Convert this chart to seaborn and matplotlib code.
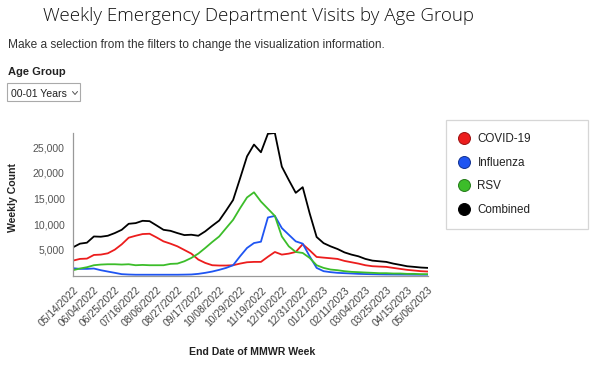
import numpy as np
import pandas as pd
import matplotlib
matplotlib.use("Agg")
import matplotlib.pyplot as plt
import seaborn as sns
from matplotlib.lines import Line2D
from matplotlib.patches import Rectangle

# ---------------- data (thousands of visits) ----------------
week_start = "2022-05-14"
n_weeks = 52
covid = [2.90, 3.23, 3.29, 4.00, 4.07, 4.32, 5.03, 6.07, 7.36, 7.74, 8.07, 8.13, 7.42,
         6.65, 6.20, 5.68, 4.97, 4.26, 3.10, 2.45, 2.00, 1.94, 1.94, 2.00, 2.32, 2.58,
         2.65, 2.65, 3.65, 4.58, 4.07, 4.26, 4.58, 6.10, 4.90, 3.61, 3.48, 3.36, 3.23,
         2.84, 2.58, 2.32, 2.00, 1.81, 1.74, 1.68, 1.48, 1.29, 1.10, 0.97, 0.84, 0.77]
influenza = [1.42, 1.29, 1.29, 1.36, 1.03, 0.77, 0.52, 0.26, 0.19, 0.15, 0.15, 0.15, 0.15,
             0.15, 0.15, 0.15, 0.17, 0.20, 0.32, 0.52, 0.77, 1.10, 1.48, 2.00, 3.74, 5.36,
             6.32, 6.58, 11.3, 11.6, 9.23, 7.94, 6.65, 6.20, 3.74, 1.48, 0.84, 0.65, 0.52,
             0.45, 0.39, 0.32, 0.28, 0.25, 0.22, 0.20, 0.19, 0.18, 0.17, 0.16, 0.15, 0.15]
rsv = [1.03, 1.36, 1.61, 2.00, 2.13, 2.19, 2.19, 2.13, 2.19, 2.00, 2.06, 2.00, 2.00,
       2.00, 2.26, 2.32, 2.77, 3.42, 4.26, 5.36, 6.52, 7.60, 9.23, 10.84, 13.1, 15.2,
       16.2, 14.4, 13.0, 11.6, 7.6, 5.68, 4.58, 4.39, 3.42, 2.00, 1.48, 1.16, 1.03,
       0.84, 0.71, 0.65, 0.58, 0.52, 0.45, 0.45, 0.39, 0.39, 0.32, 0.32, 0.26, 0.26]
combined = [5.49, 6.20, 6.39, 7.60, 7.55, 7.74, 8.26, 8.90, 10.07, 10.20, 10.65, 10.58, 9.75,
            8.90, 8.70, 8.26, 7.87, 7.94, 7.74, 8.60, 9.68, 10.70, 12.65, 14.70, 18.90, 23.20,
            25.50, 24.00, 27.60, 27.75, 21.20, 18.60, 16.10, 17.20, 12.10, 7.50, 6.30, 5.68, 5.16,
            4.50, 4.07, 3.74, 3.23, 2.90, 2.77, 2.65, 2.32, 2.07, 1.80, 1.68, 1.55, 1.48]
series_names = ["COVID-19", "Influenza", "RSV", "Combined"]
series_colors = ["#ec1d1d", "#1f55f2", "#3cbd2a", "#000000"]
edge_colors = ["#9b1010", "#10308f", "#237a18", "#000000"]
y_ticks = [5000, 10000, 15000, 20000, 25000]

dates = pd.date_range(week_start, periods=n_weeks, freq="7D")
df = pd.DataFrame({
    "date": np.tile(dates, len(series_names)),
    "value": np.concatenate([covid, influenza, rsv, combined]) * 1000.0,
    "series": np.repeat(series_names, n_weeks),
})

# ---------------- figure ----------------
sns.set_style("white")
plt.rcParams["font.family"] = ["Liberation Sans", "DejaVu Sans"]

W, H = 600, 365
fig = plt.figure(figsize=(W / 100, H / 100), dpi=100)

def fx(px):
    return px / W

def fy(py):
    return 1 - py / H

ax = fig.add_axes([fx(73), fy(275.5), fx(428) - fx(73), fy(133) - fy(275.5)])

sns.lineplot(data=df, x="date", y="value", hue="series", hue_order=series_names,
             palette=dict(zip(series_names, series_colors)), legend=False,
             linewidth=1.3, ax=ax)

ax.set_xlim(dates[0], dates[-1])
ax.set_ylim(0, max(combined) * 1000.0)
tick_dates = dates[::3]
ax.set_xticks(tick_dates)
ax.set_xticklabels([d.strftime("%m/%d/%Y") for d in tick_dates], rotation=45,
                   ha="right", rotation_mode="anchor", fontsize=7.4, color="#444444")
ax.set_yticks(y_ticks)
ax.set_yticklabels([f"{v:,}" for v in y_ticks], fontsize=7.6, color="#555555")
ax.tick_params(axis="both", length=4, width=0.8, color="#999999", pad=2, direction="out")
ax.tick_params(axis="x", pad=3)
ax.set_xlabel("")
ax.set_ylabel("")
for s in ["top", "right"]:
    ax.spines[s].set_visible(False)
for s in ["left", "bottom"]:
    ax.spines[s].set_color("#999999")
    ax.spines[s].set_linewidth(0.9)
ax.grid(False)

# axis titles
fig.text(fx(252), fy(355), "End Date of MMWR Week", ha="center", va="baseline",
         fontsize=7.6, fontweight="bold", color="#222222")
fig.text(fx(13.5), fy(197), "Weekly Count", ha="center", va="center", rotation=90,
         fontsize=7.6, fontweight="bold", color="#222222")

# header texts
title = fig.text(fx(43), fy(20.7), "Weekly Emergency Department Visits by Age Group",
                 ha="left", va="baseline", fontsize=14, fontweight="light",
                 family=["Open Sans", "DejaVu Sans"], color="#111111")
sub = fig.text(fx(8), fy(47.7),
               "Make a selection from the filters to change the visualization information.",
               ha="left", va="baseline", fontsize=8, color="#333333")
fig.text(fx(8), fy(75.3), "Age Group", ha="left", va="baseline", fontsize=8,
         fontweight="bold", color="#222222")

# dropdown
fig.add_artist(Rectangle((fx(7), fy(101)), fx(80) - fx(7), fy(83) - fy(101),
                         transform=fig.transFigure, facecolor="white",
                         edgecolor="#aaaaaa", linewidth=0.8))
fig.text(fx(11), fy(96.5), "00-01 Years", ha="left", va="baseline", fontsize=7.6,
         color="#222222")
fig.add_artist(Line2D([fx(72.5), fx(75), fx(77.5)], [fy(91.5), fy(94.5), fy(91.5)],
                      transform=fig.transFigure, color="#555555", linewidth=0.7))

# fit header widths to reference
fig.canvas.draw()
r = fig.canvas.get_renderer()
for t, target in [(title, 433.0), (sub, 381.0)]:
    w = t.get_window_extent(r).width
    t.set_fontsize(t.get_fontsize() * target / w)

# legend
handles = [Line2D([], [], linestyle="", marker="o", markersize=8.6,
                  markerfacecolor=c, markeredgecolor=e, markeredgewidth=0.7)
           for c, e in zip(series_colors, edge_colors)]
leg = fig.legend(handles, series_names, loc="upper left",
                 bbox_to_anchor=(fx(446), fy(228), fx(588) - fx(446), fy(120) - fy(228)),
                 mode="expand", borderaxespad=0, fontsize=8.4, frameon=True,
                 fancybox=False, borderpad=1.15, handlelength=0.8, handletextpad=0.75,
                 labelspacing=0.98)
leg.get_frame().set_edgecolor("#cccccc")
leg.get_frame().set_linewidth(0.9)
for txt in leg.get_texts():
    txt.set_color("#222222")

fig.savefig("out.png", dpi=100)
